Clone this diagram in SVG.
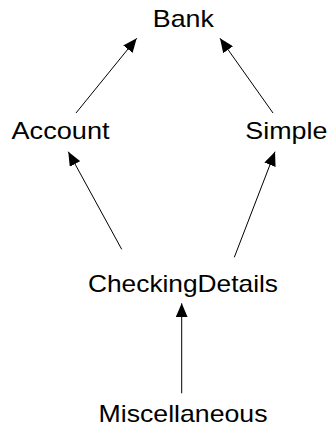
<svg xmlns="http://www.w3.org/2000/svg" width="330" height="427" viewBox="0 0 330 427">
<style>
text{font-family:"Liberation Sans",Arial,sans-serif;font-size:24px;fill:#000;text-anchor:middle}
.c line{stroke:#000;stroke-width:1;marker-end:url(#ah)}
</style>
<defs>
<marker id="ah" markerUnits="userSpaceOnUse" markerWidth="14" markerHeight="12" refX="14" refY="6" orient="auto" viewBox="0 0 14 12">
<path d="M0,0 L14,6 L0,12 z" fill="#000"/>
</marker>
</defs>
<rect width="330" height="427" fill="#fff"/>
<g class="c" id="connectors">
<line x1="76" y1="113" x2="136.7" y2="38.3"/>
<line x1="273" y1="113" x2="220" y2="38.3"/>
<line x1="121.7" y1="249.3" x2="68.3" y2="151.7"/>
<line x1="234.3" y1="257.3" x2="275" y2="151.7"/>
<line x1="181.7" y1="393.3" x2="181.7" y2="303.3"/>
</g>
<g id="bank"><text x="183.3" y="27" textLength="61" lengthAdjust="spacingAndGlyphs">Bank</text></g>
<g id="account"><text x="60.5" y="139.3" textLength="98" lengthAdjust="spacingAndGlyphs">Account</text></g>
<g id="simple"><text x="286.3" y="139.3" textLength="82" lengthAdjust="spacingAndGlyphs">Simple</text></g>
<g id="checkingdetails"><text x="183" y="291.7" textLength="190" lengthAdjust="spacingAndGlyphs">CheckingDetails</text></g>
<g id="miscellaneous"><text x="183" y="421.5" textLength="169" lengthAdjust="spacingAndGlyphs">Miscellaneous</text></g>
</svg>
